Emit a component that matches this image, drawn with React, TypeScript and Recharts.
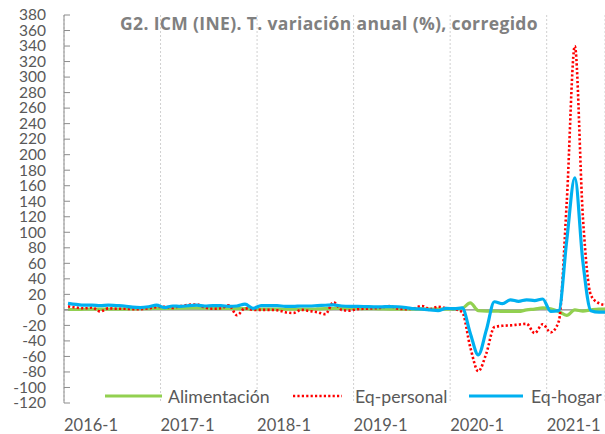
import { CartesianGrid, Line, LineChart, ReferenceLine, XAxis, YAxis } from "recharts";

// Mensual 2016-1 .. 2021-8
const years = [2016, 2017, 2018, 2019, 2020, 2021];
const months = years.flatMap((y) => Array.from({ length: 12 }, (_, m) => `${y}-${m + 1}`)).slice(0, 68);

const alimentacion = [
  0.5, 0.5, 0.8, 1, 1, 1, 1, 1, 1.2, 1.5, 1.5, 2,
  2, 2, 2.2, 2.5, 2.5, 2.2, 2, 2, 1.8, 1.5, 1.5, 1.2,
  1, 1, 1, 0.8, 1, 1, 1, 1.2, 1.5, 1.8, 2, 2,
  1.8, 1.5, 1.5, 1.2, 1, 1, 1, 1, 1.2, 1, 1, 1,
  1, 2, 9, -1, -1.5, -1.5, -2, -2, -2, 0, 1, 2.5,
  1.5, -2, -7, 0, -1.5, 0, 1, 1,
];

const eqPersonal = [
  4.5, 3, 2, 3, -2, 2, 1.5, 1.5, 1, 1, 2, 3.5,
  4, 2.5, 5, 6.5, 7, 3, 1.5, 2, 6, -7, 2, 0,
  0, 0, -0.5, -3, -4, 0, -1.5, -3, -5.5, 10, 0, -1,
  1, 1.5, 2, 3, 5, 1.5, 1, 2, 5, 1, 4, 2,
  1, -3, -48, -79, -56, -22, -20.5, -20, -19, -18, -30, -18.5,
  -29, -15, 140, 340, 120, 19, 8.5, 6,
];

const eqHogar = [
  8.5, 7, 6, 6, 5.5, 6, 5.5, 5, 3.5, 3, 4, 6,
  3, 5, 4.5, 5.5, 6, 5, 5.5, 5.5, 4.5, 5, 7.5, 2,
  5.5, 5.5, 5.5, 4.5, 4.5, 5, 5, 5.5, 6, 6.5, 5, 4.5,
  4.5, 4.3, 4, 4, 4.3, 4, 3, 1.5, 1, 0, -1, 2,
  1.5, 2.5, -30, -58, -26, 10.5, 8, 13, 11, 13, 12, 14,
  -2, -1, 90, 170, 62, -1, -3, -3,
];

const yTicks = [-120, -100, -80, -60, -40, -20, 0, 20, 40, 60, 80, 100, 120, 140, 160, 180, 200, 220, 240, 260, 280, 300, 320, 340, 360, 380];
const xTicks = [0, 12, 24, 36, 48, 60];

const title = "G2. ICM (INE). T. variación anual (%), corregido";

const series = [
  { key: "alimentacion", name: "Alimentación", color: "#92D050", width: 3.2, dash: undefined as string | undefined },
  { key: "personal", name: "Eq-personal", color: "#FF0000", width: 2.6, dash: "2.2 2.2" },
  { key: "hogar", name: "Eq-hogar", color: "#00B0F0", width: 3.2, dash: undefined as string | undefined },
];

const data = months.map((m, idx) => ({
  x: idx + 0.5,
  month: m,
  alimentacion: alimentacion[idx],
  personal: eqPersonal[idx],
  hogar: eqHogar[idx],
}));

const W = 605;
const H = 434;
const PLOT_LEFT = 64;
const FONT = "Lato, 'Open Sans', sans-serif";
const TEXT = "#595959";

// posiciones de la leyenda (línea x0, x1, texto)
const legendPos = [
  [105, 162, 168],
  [293, 342, 355],
  [469, 523, 531],
];
const LEGEND_Y = 396;

function YTick(props: any) {
  const { x, y, payload } = props;
  return (
    <g>
      <line x1={PLOT_LEFT} x2={PLOT_LEFT + 6} y1={y} y2={y} stroke="#8c8c8c" strokeWidth={1} />
      <text x={x} y={y} dy={5.3} textAnchor="end" fill={TEXT} fontSize={15.5} fontFamily={FONT}>
        {payload.value}
      </text>
    </g>
  );
}

function XTick(props: any) {
  const { x, y, payload } = props;
  return (
    <text x={x} y={y} dy={19.5} textAnchor="start" fill={TEXT} fontSize={16.5} fontFamily={FONT}>
      {months[payload.value]}
    </text>
  );
}

export default function App() {
  return (
    <div style={{ position: "absolute", left: 0, top: 0, width: W, height: H, background: "#fff", overflow: "hidden" }}>
      <LineChart width={W} height={H} data={data} margin={{ top: 15, right: 0, bottom: 0, left: 0 }}>
        <CartesianGrid horizontal={false} stroke="#d0d0d0" strokeDasharray="2 2" />
        <XAxis
          type="number"
          dataKey="x"
          domain={[0, 67.25]}
          allowDataOverflow
          ticks={xTicks}
          interval={0}
          axisLine={false}
          tickLine={false}
          height={31}
          tick={<XTick />}
        />
        <YAxis
          type="number"
          domain={[-120, 380]}
          ticks={yTicks}
          interval={0}
          width={PLOT_LEFT}
          axisLine={{ stroke: "#8c8c8c", strokeWidth: 1 }}
          tickLine={false}
          tickSize={0}
          tickMargin={18}
          tick={<YTick />}
        />
        <ReferenceLine y={0} stroke="#868686" strokeWidth={1.2} />
        {series.map((s) => (
          <Line
            key={s.key}
            type="monotone"
            dataKey={s.key}
            name={s.name}
            stroke={s.color}
            strokeWidth={s.width}
            strokeDasharray={s.dash}
            dot={false}
            activeDot={false}
            isAnimationActive={false}
          />
        ))}
      </LineChart>
      <svg width={W} height={H} style={{ position: "absolute", left: 0, top: 0, pointerEvents: "none" }}>
        <text
          x={329}
          y={29.5}
          textAnchor="middle"
          fill="#808080"
          fontSize={17.5}
          letterSpacing={0.35}
          fontWeight="bold"
          fontFamily="'Open Sans', sans-serif"
        >
          {title}
        </text>
        {series.map((s, i) => (
          <g key={s.key}>
            <line
              x1={legendPos[i][0]}
              x2={legendPos[i][1]}
              y1={LEGEND_Y}
              y2={LEGEND_Y}
              stroke={s.color}
              strokeWidth={s.width}
              strokeDasharray={s.dash}
            />
            <text x={legendPos[i][2]} y={LEGEND_Y + 6.5} fill={TEXT} fontSize={17.7} fontFamily={FONT}>
              {s.name}
            </text>
          </g>
        ))}
      </svg>
    </div>
  );
}
